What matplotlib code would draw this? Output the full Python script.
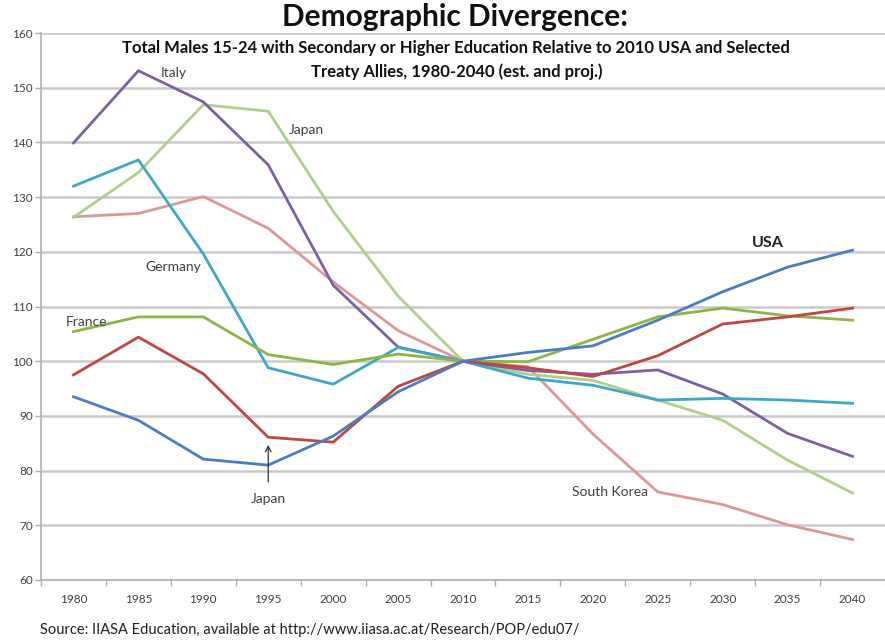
import matplotlib
matplotlib.use("Agg")
import matplotlib.pyplot as plt
from matplotlib.ticker import FixedLocator

plt.rcParams['font.family'] = ['Lato', 'DejaVu Sans']

years = ["1980", "1985", "1990", "1995", "2000", "2005", "2010",
         "2015", "2020", "2025", "2030", "2035", "2040"]

usa = [93.5, 89.2, 82.1, 81.0, 86.3, 94.4, 100.0, 101.6, 102.8, 107.5, 112.7, 117.2, 120.3]
uk_red = [97.5, 104.4, 97.7, 86.1, 85.2, 95.4, 100.0, 98.8, 97.2, 101.0, 106.8, 108.1, 109.7]
france = [105.4, 108.1, 108.1, 101.2, 99.4, 101.3, 100.0, 99.9, 104.0, 108.1, 109.7, 108.3, 107.5]
germany = [132.0, 136.8, 119.6, 98.8, 95.8, 102.5, 100.0, 96.9, 95.6, 92.9, 93.2, 92.9, 92.3]
italy = [139.9, 153.1, 147.4, 135.9, 113.9, 102.6, 100.0, 98.3, 97.6, 98.4, 94.0, 86.8, 82.6]
japan = [126.3, 134.5, 146.9, 145.7, 127.4, 111.9, 100.0, 97.6, 96.5, 92.9, 89.2, 81.9, 75.9]
south_korea = [126.4, 127.0, 130.1, 124.3, 114.5, 105.6, 100.0, 99.0, 86.7, 76.1, 73.8, 70.1, 67.4]

series = [
    (south_korea, "#DD9895"),
    (japan, "#AFD08A"),
    (italy, "#7D5FA3"),
    (germany, "#3FA7C4"),
    (france, "#8DB547"),
    (uk_red, "#BE4643"),
    (usa, "#4A7DC0"),
]

fig = plt.figure(figsize=(8.85, 6.41), dpi=100)
ax = fig.add_axes([41 / 885, 1 - 580 / 641, 1 - 41 / 885, (580 - 33) / 641])

x = list(range(len(years)))
for vals, col in series:
    ax.plot(x, vals, color=col, lw=2.0, solid_joinstyle='round', zorder=3)

ax.set_xlim(-0.5, len(years) - 0.5)
ax.set_ylim(60, 160)
ax.set_yticks(range(60, 161, 10))
ax.yaxis.grid(True, color="#CACACA", lw=1.8, zorder=0)
ax.set_axisbelow(True)

ax.set_xticks(x)
ax.set_xticklabels(years)
ax.xaxis.set_minor_locator(FixedLocator([i - 0.5 for i in range(len(years) + 1)]))
ax.tick_params(axis='x', which='major', length=0, pad=10, labelsize=8.5, labelcolor="#404040")
ax.tick_params(axis='x', which='minor', length=4, width=1, color="#B0B0B0", direction='out')
ax.tick_params(axis='y', length=4, width=1, color="#B0B0B0", pad=2, labelsize=8.5, labelcolor="#404040")

for side in ("top", "right"):
    ax.spines[side].set_visible(False)
for side in ("left", "bottom"):
    ax.spines[side].set_color("#B0B0B0")
    ax.spines[side].set_linewidth(1.2)

lab = dict(fontsize=10, color="#404040", va='center', zorder=5)
ax.text(1.34, 152.7, "Italy", ha='left', **lab)
ax.text(3.32, 142.3, "Japan", ha='left', **lab)
ax.text(1.11, 117.2, "Germany", ha='left', **lab)
ax.text(-0.12, 107.2, "France", ha='left', **lab)
ax.text(7.68, 76.1, "South Korea", ha='left', **lab)
ax.text(10.45, 121.6, "USA", ha='left', fontsize=11.5, fontweight='bold',
        color="#202020", va='center', zorder=5)
ax.annotate("Japan", xy=(3.0, 84.7), xytext=(3.0, 74.8), ha='center', va='center',
            fontsize=10, color="#404040",
            arrowprops=dict(arrowstyle='->', color="#303030", lw=0.9,
                            shrinkA=6, shrinkB=0))

fig.text(455 / 885, 1 - 17 / 641, "Demographic Divergence:", ha='center', va='center',
         fontsize=21.5, fontweight='bold', color="#111111")
fig.text(456 / 885, 1 - 48 / 641,
         "Total Males 15-24 with Secondary or Higher Education Relative to 2010 USA and Selected",
         ha='center', va='center', fontsize=12, fontweight='bold', color="#111111")
fig.text(457 / 885, 1 - 72 / 641, "Treaty Allies, 1980-2040 (est. and proj.)",
         ha='center', va='center', fontsize=12, fontweight='bold', color="#111111")

fig.text(40 / 885, 1 - 630 / 641,
         "Source: IIASA Education, available at http://www.iiasa.ac.at/Research/POP/edu07/",
         ha='left', va='center', fontsize=10.5, color="#202020")

fig.savefig("out.png", dpi=100)
